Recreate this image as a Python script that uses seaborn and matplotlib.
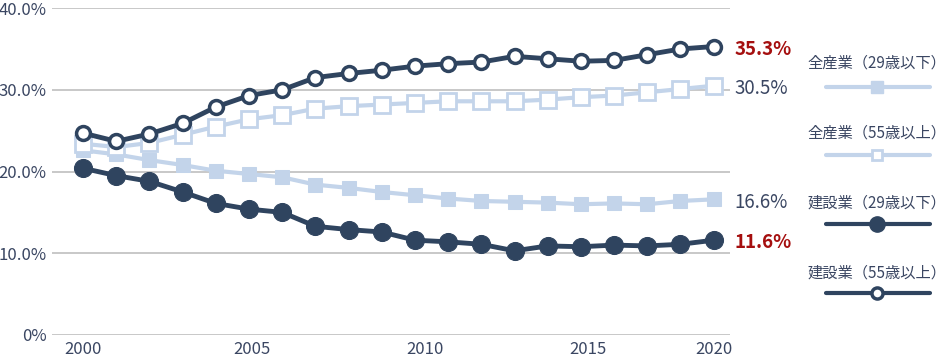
import numpy as np
import pandas as pd
import matplotlib
matplotlib.use("Agg")
import matplotlib.pyplot as plt
from matplotlib.lines import Line2D
import seaborn as sns

# data (20 points)
years = list(range(20))
xtick_labels = ["2000", "2005", "2010", "2015", "2020"]
xtick_pos = [0, 5.1, 10.3, 15.2, 19]

all_u29 = [22.6, 22.1, 21.4, 20.8, 20.1, 19.7, 19.3, 18.4, 18.0, 17.5,
           17.1, 16.7, 16.4, 16.3, 16.2, 16.0, 16.1, 16.0, 16.4, 16.6]
all_o55 = [23.4, 23.0, 23.5, 24.5, 25.5, 26.4, 26.9, 27.7, 28.0, 28.2,
           28.4, 28.6, 28.6, 28.6, 28.8, 29.1, 29.3, 29.7, 30.1, 30.5]
con_u29 = [20.4, 19.5, 18.8, 17.5, 16.1, 15.4, 15.0, 13.3, 12.9, 12.6,
           11.6, 11.4, 11.1, 10.3, 10.9, 10.8, 11.0, 10.9, 11.1, 11.6]
con_o55 = [24.7, 23.7, 24.6, 25.9, 27.9, 29.3, 30.0, 31.5, 32.0, 32.4,
           32.9, 33.2, 33.4, 34.1, 33.8, 33.5, 33.6, 34.3, 35.0, 35.3]

names = ["全産業（29歳以下）", "全産業（55歳以上）", "建設業（29歳以下）", "建設業（55歳以上）"]

LIGHT = "#c3d4ea"
DARK = "#2f445f"
RED = "#a50f0f"
TXT = "#3a4662"

sns.set_style("white")
plt.rcParams['font.family'] = ['Noto Sans CJK JP', 'DejaVu Sans']

fig = plt.figure(figsize=(9.5, 3.64), dpi=100)
ax = fig.add_axes([0.055, 0.0797, 0.713, 0.898])

styles = [
    dict(color=LIGHT, marker="s", markersize=10, markerfacecolor=LIGHT,
         markeredgecolor=LIGHT, linewidth=3),
    dict(color=LIGHT, marker="s", markersize=11, markerfacecolor="white",
         markeredgecolor=LIGHT, markeredgewidth=2, linewidth=3),
    dict(color=DARK, marker="o", markersize=13, markerfacecolor=DARK,
         markeredgecolor=DARK, linewidth=3.5),
    dict(color=DARK, marker="o", markersize=10, markerfacecolor="white",
         markeredgecolor=DARK, markeredgewidth=2.5, linewidth=3.5),
]
# smaller marker sizes for the legend keys
leg_ms = [9, 7, 11, 8]
series = [all_u29, all_o55, con_u29, con_o55]

for vals, st in zip(series, styles):
    sns.lineplot(x=years, y=vals, ax=ax, **st)

ax.set_xlim(-0.93, 19.48)
ax.set_ylim(0, 40)
ax.set_yticks([0, 10, 20, 30, 40])
ax.set_yticklabels(["0%", "10.0%", "20.0%", "30.0%", "40.0%"])
ax.set_xticks(xtick_pos)
ax.set_xticklabels(xtick_labels)
ax.tick_params(axis="both", length=0, labelsize=12, labelcolor=TXT, pad=4)
ax.yaxis.grid(True, color="#c4c4c4", linewidth=1.3)
ax.xaxis.grid(False)
ax.set_axisbelow(True)
for s in ax.spines.values():
    s.set_visible(False)

# end labels
end_fmt = [(all_u29, TXT, "normal"), (all_o55, TXT, "normal"),
           (con_u29, RED, "bold"), (con_o55, RED, "bold")]
for vals, c, w in end_fmt:
    ax.annotate(f"{vals[-1]:.1f}%", xy=(years[-1], vals[-1]),
                xytext=(15, -2), textcoords="offset points",
                color=c, fontweight=w, fontsize=13.5, va="center", ha="left")

# legend on the right
leg_text_y = [63, 133, 203, 273]
leg_line_y = [87, 155, 224, 293]
W, H = 950, 364
for name, st, ms, ty, ly in zip(names, styles, leg_ms, leg_text_y, leg_line_y):
    fig.text(877 / W, 1 - ty / H, name, ha="center", va="center",
             fontsize=11, color=TXT)
    fig.add_artist(Line2D([826 / W, 930 / W], [1 - ly / H] * 2,
                          transform=fig.transFigure, color=st["color"],
                          linewidth=3, solid_capstyle="round"))
    fig.add_artist(Line2D([877 / W], [1 - ly / H], transform=fig.transFigure,
                          linestyle="none", marker=st["marker"],
                          markersize=ms,
                          markerfacecolor=st["markerfacecolor"],
                          markeredgecolor=st["markeredgecolor"],
                          markeredgewidth=st.get("markeredgewidth", 1)))

fig.savefig("out.png", dpi=100)
